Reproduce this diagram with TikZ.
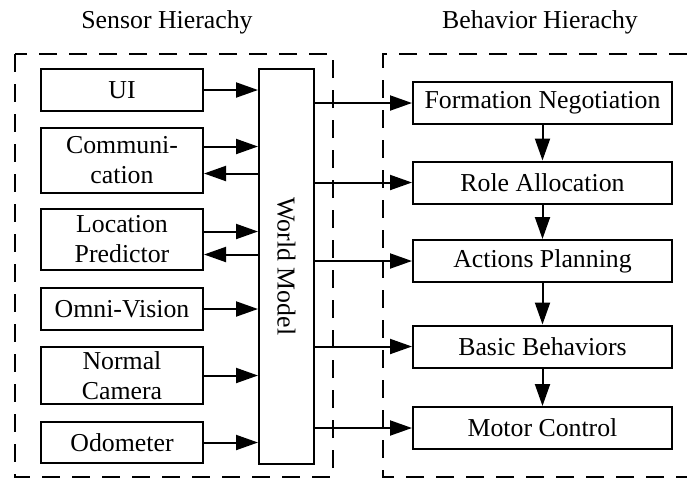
\documentclass[tikz,border=0pt]{standalone}
\usepackage{fontspec}
\setmainfont{Liberation Serif}
\usepackage{tikz}
\usetikzlibrary{arrows.meta}

\begin{document}
\begin{tikzpicture}[x=0.5pt, y=-0.5pt,
  blk/.style={draw, line width=1pt, align=center, inner sep=1pt,
              font=\fontsize{12.9}{15}\selectfont},
  sns/.style={blk, minimum width=81pt},
  bhv/.style={blk, minimum width=129.5pt, minimum height=21pt},
  grp/.style={draw, line width=1pt, dash pattern=on 9pt off 6pt},
  ttl/.style={anchor=base, font=\fontsize{12.9}{15}\selectfont},
  >={Triangle[length=11pt, width=7.5pt]}]
\useasboundingbox (0,0) rectangle (687,479);
% group frames
\draw[grp] (15,54) rectangle (333,477);
\draw[grp] (687,54) -- (383,54) -- (383,477) -- (687,477);
\node[ttl] (tsen) at (167,28) {Sensor Hierachy};
\node[ttl] (tbhv) at (540,28) {Behavior Hierachy};
% sensors
\node[sns, minimum height=21pt] (ui) at (122,90) {UI};
\node[sns, minimum height=32.5pt] (com) at (122,160.5) {Communi-\\cation};
\node[sns, minimum height=30.5pt] (loc) at (122,239.5) {Location\\Predictor};
\node[sns, minimum height=21pt] (omni) at (122,309) {Omni-Vision};
\node[sns, minimum height=28.5pt] (cam) at (122,375.5) {Normal\\Camera};
\node[sns, minimum height=20.5pt] (odo) at (122,442.5) {Odometer};
\node[blk, minimum width=27.5pt, minimum height=197.5pt] (wm) at (286.5,266.5)
  {\rotatebox{-90}{World Model}};
% behaviors
\node[bhv] (fn) at (542.5,103) {Formation Negotiation};
\node[bhv] (ra) at (542.5,182.5) {Role Allocation};
\node[bhv] (ap) at (542.5,261) {Actions Planning};
\node[bhv] (bb) at (542.5,346.5) {Basic Behaviors};
\node[bhv] (mc) at (542.5,428) {Motor Control};
% sensors -> world model
\draw[->, line width=1pt] (ui) -- (ui -| wm.west);
\draw[->, line width=1pt] ([yshift=7pt]com.east) -- ([yshift=7pt]com.east -| wm.west);
\draw[<-, line width=1pt] ([yshift=-6.5pt]com.east) -- ([yshift=-6.5pt]com.east -| wm.west);
\draw[->, line width=1pt] ([yshift=4pt]loc.east) -- ([yshift=4pt]loc.east -| wm.west);
\draw[<-, line width=1pt] ([yshift=-7.5pt]loc.east) -- ([yshift=-7.5pt]loc.east -| wm.west);
\draw[->, line width=1pt] (omni) -- (omni -| wm.west);
\draw[->, line width=1pt] (cam) -- (cam -| wm.west);
\draw[->, line width=1pt] (odo) -- (odo -| wm.west);
% world model -> behaviors
\foreach \b in {fn, ra, ap, bb, mc}
  \draw[->, line width=1pt] (wm.east |- \b.west) -- (\b.west);
\draw[->, line width=1pt] (fn) -- (ra);
\draw[->, line width=1pt] (ra) -- (ap);
\draw[->, line width=1pt] (ap) -- (bb);
\draw[->, line width=1pt] (bb) -- (mc);
\end{tikzpicture}
\end{document}
